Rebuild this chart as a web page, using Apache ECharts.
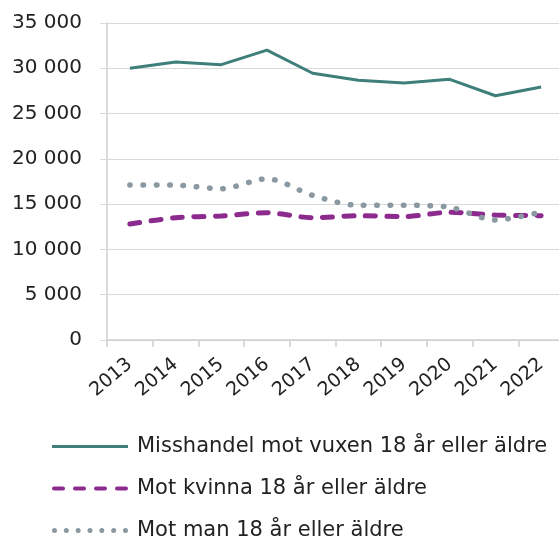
<!DOCTYPE html>
<html>
<head>
<meta charset="utf-8">
<script src="https://cdn.jsdelivr.net/npm/echarts@6/dist/echarts.min.js"></script>
<style>
  html, body { margin: 0; padding: 0; background: #fff; }
  #chart { width: 559px; height: 537px; }
</style>
</head>
<body>
<div id="chart"></div>
<script>
// år
var years = ['2013', '2014', '2015', '2016', '2017', '2018', '2019', '2020', '2021', '2022'];

// antal anmälda brott
var vuxen = [30000, 30700, 30400, 32000, 29450, 28680, 28380, 28780, 26970, 27930];
var kvinna = [12800, 13500, 13700, 14050, 13500, 13730, 13620, 14100, 13800, 13730];
var man = [17100, 17100, 16700, 17800, 15970, 14870, 14870, 14650, 13250, 14130];

var seriesNames = [
    'Misshandel mot vuxen 18 år eller äldre',
    'Mot kvinna 18 år eller äldre',
    'Mot man 18 år eller äldre'
];

var colors = ['#3e7f7a', '#8c2a8e', '#8a98a2'];
var fontName = 'DejaVu Sans';

// tusentalsavgränsare med mellanslag
function fmt(v) {
    return String(v).replace(/\B(?=(\d{3})+(?!\d))/g, ' ');
}

// legendsymboler: heldragen, streckad, prickad (76 x 5)
var iconSolid = 'path://M0,1h76v3h-76z';
var iconDash = 'path://M2,0.5h9a2,2 0 0 1 0,4h-9a2,2 0 0 1 0,-4z M23,0.5h9a2,2 0 0 1 0,4h-9a2,2 0 0 1 0,-4z M44,0.5h9a2,2 0 0 1 0,4h-9a2,2 0 0 1 0,-4z M65,0.5h9a2,2 0 0 1 0,4h-9a2,2 0 0 1 0,-4z';
var iconDot = (function () {
    var p = 'path://';
    for (var i = 0; i < 7; i++) {
        var cx = 2.5 + i * 11.83;
        p += 'M' + (cx - 2.5).toFixed(2) + ',2.5a2.5,2.5 0 1,0 5,0a2.5,2.5 0 1,0 -5,0 ';
    }
    return p;
})();

function chartRender() {
    var chart = echarts.init(document.getElementById('chart'));

    var option = {
        animation: false,
        grid: {
            left: 107,
            top: 23,
            width: 457,
            height: 317,
            outerBoundsMode: 'none',
            containLabel: false
        },
        legend: {
            orient: 'vertical',
            left: 47,
            top: 431,
            height: 200,
            itemWidth: 76,
            itemHeight: 14,
            itemGap: 21,
            symbolKeepAspect: true,
            textStyle: {
                fontFamily: fontName,
                fontSize: 21,
                color: '#222',
                padding: [0, 0, 0, 4]
            },
            data: [
                { name: seriesNames[0], icon: iconSolid, itemStyle: { color: colors[0] } },
                { name: seriesNames[1], icon: iconDash, itemStyle: { color: colors[1] } },
                { name: seriesNames[2], icon: iconDot, itemStyle: { color: colors[2] } }
            ]
        },
        xAxis: {
            type: 'category',
            data: years,
            boundaryGap: true,
            axisLine: { lineStyle: { color: '#cfcfcf', width: 1.5 } },
            axisTick: { show: true, length: 7, lineStyle: { color: '#cfcfcf', width: 1.5 } },
            axisLabel: {
                rotate: 40,
                margin: 22,
                fontFamily: fontName,
                fontSize: 19,
                color: '#222'
            }
        },
        yAxis: {
            type: 'value',
            min: 0,
            max: 35000,
            interval: 5000,
            axisLine: { show: true, lineStyle: { color: '#cfcfcf', width: 1.5 } },
            axisTick: { show: true, length: 7, lineStyle: { color: '#d9d9d9' } },
            splitLine: { lineStyle: { color: '#d9d9d9', width: 1 } },
            axisLabel: {
                margin: 25,
                fontFamily: fontName,
                fontSize: 20,
                color: '#222',
                formatter: fmt
            }
        },
        series: [
            {
                name: seriesNames[0],
                type: 'line',
                data: vuxen,
                symbol: 'none',
                lineStyle: { color: colors[0], width: 3 },
                itemStyle: { color: colors[0] }
            },
            {
                name: seriesNames[1],
                type: 'line',
                data: kvinna,
                symbol: 'none',
                smooth: 0.3,
                lineStyle: { color: colors[1], width: 5, type: [10, 11.5], cap: 'round' },
                itemStyle: { color: colors[1] }
            },
            {
                name: seriesNames[2],
                type: 'line',
                data: man,
                symbol: 'none',
                smooth: 0.3,
                lineStyle: { color: colors[2], width: 5.5, type: [0.5, 12.8], cap: 'round' },
                itemStyle: { color: colors[2] }
            }
        ]
    };

    chart.setOption(option);
}

chartRender();
</script>
</body>
</html>
